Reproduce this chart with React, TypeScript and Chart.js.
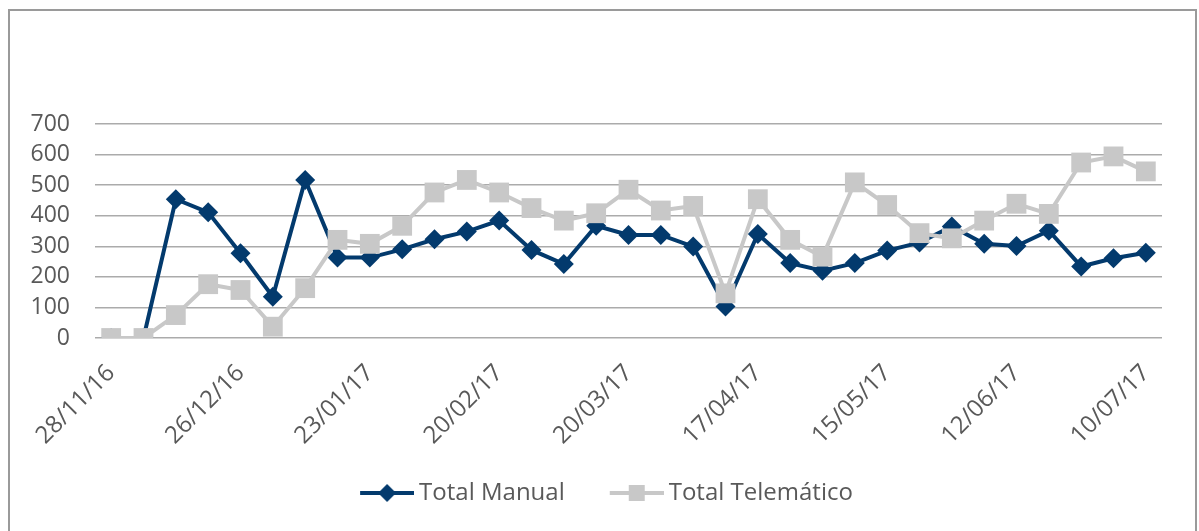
import { useEffect, useRef } from "react";
import { Chart, registerables } from "chart.js";

Chart.register(...registerables);

const categories = [
  "28/11/16", "05/12/16", "12/12/16", "19/12/16", "26/12/16", "02/01/17", "09/01/17", "16/01/17",
  "23/01/17", "30/01/17", "06/02/17", "13/02/17", "20/02/17", "27/02/17", "06/03/17", "13/03/17",
  "20/03/17", "27/03/17", "03/04/17", "10/04/17", "17/04/17", "24/04/17", "01/05/17", "08/05/17",
  "15/05/17", "22/05/17", "29/05/17", "05/06/17", "12/06/17", "19/06/17", "26/06/17", "03/07/17",
  "10/07/17",
];

const totalManual = [
  0, 0, 454, 411, 277, 135, 517, 263, 263, 290, 323, 348, 384, 288, 242, 367, 337,
  337, 299, 103, 340, 245, 220, 245, 286, 312, 365, 308, 301, 351, 234, 261, 279,
];

const totalTelematico = [
  0, 0, 75, 176, 157, 37, 163, 321, 308, 367, 476, 517, 476, 425, 384, 408, 485,
  417, 432, 146, 454, 321, 266, 509, 435, 343, 326, 384, 439, 406, 574, 594, 545,
];

const seriesNames = ["Total Manual", "Total Telemático"];
const yMin = 0;
const yMax = 700;
const yStep = 100;
const labelEvery = 4;

const NAVY = "#033a6d";
const GRAY = "#c8c8c8";
const TEXT = "#595959";
const FONT = "'Open Sans', 'Noto Sans', sans-serif";

// legend icon: line with marker, drawn offset to the right inside a symmetric canvas
function makeLegendIcon(color: string, shape: "diamond" | "square") {
  const c = document.createElement("canvas");
  c.width = 75;
  c.height = 22;
  const ctx = c.getContext("2d")!;
  const x0 = 21;
  const w = 54;
  const cx = x0 + w / 2;
  ctx.strokeStyle = color;
  ctx.lineWidth = 4;
  ctx.beginPath();
  ctx.moveTo(x0, 11);
  ctx.lineTo(x0 + w, 11);
  ctx.stroke();
  ctx.fillStyle = color;
  if (shape === "diamond") {
    ctx.beginPath();
    ctx.moveTo(cx, 2);
    ctx.lineTo(cx + 9, 11);
    ctx.lineTo(cx, 20);
    ctx.lineTo(cx - 9, 11);
    ctx.closePath();
    ctx.fill();
  } else {
    ctx.fillRect(cx - 8, 3, 16, 16);
  }
  return c;
}

export default function App() {
  const ref = useRef<HTMLCanvasElement | null>(null);

  useEffect(() => {
    if (!ref.current) return;
    const icons = [makeLegendIcon(NAVY, "diamond"), makeLegendIcon(GRAY, "square")];
    const chart = new Chart(ref.current, {
      type: "line",
      data: {
        labels: categories,
        datasets: [
          {
            label: seriesNames[0],
            data: totalManual,
            borderColor: NAVY,
            backgroundColor: NAVY,
            borderWidth: 4,
            pointStyle: "rectRot",
            pointRadius: 10,
            pointBorderWidth: 0,
            pointBackgroundColor: NAVY,
            tension: 0,
            order: 1,
          },
          {
            label: seriesNames[1],
            data: totalTelematico,
            borderColor: GRAY,
            backgroundColor: GRAY,
            borderWidth: 4,
            pointStyle: "rect",
            pointRadius: 14,
            pointBorderWidth: 0,
            pointBackgroundColor: GRAY,
            tension: 0,
            order: 0,
          },
        ],
      },
      options: {
        responsive: false,
        animation: false,
        layout: { padding: { left: 0, right: 0, top: 124, bottom: 16 } },
        plugins: {
          tooltip: { enabled: false },
          legend: {
            position: "bottom",
            labels: {
              usePointStyle: true,
              pointStyleWidth: 61,
              padding: 31,
              color: TEXT,
              font: { family: FONT, size: 24 },
              sort: (a: any, b: any) => a.datasetIndex - b.datasetIndex,
              generateLabels: (ch: any) => {
                const items = Chart.defaults.plugins.legend.labels.generateLabels(ch);
                items.forEach((it: any) => {
                  it.pointStyle = icons[it.datasetIndex];
                });
                return items;
              },
            },
          },
        },
        scales: {
          x: {
            offset: true,
            grid: { display: false, drawTicks: false },
            border: { display: false },
            ticks: {
              autoSkip: false,
              minRotation: 45,
              maxRotation: 45,
              padding: 21,
              color: TEXT,
              font: { family: FONT, size: 24 },
              callback: (_v: any, i: number) => (i % labelEvery === 0 ? categories[i] : ""),
            },
            afterFit: (s: any) => {
              s.height = 112;
            },
          },
          y: {
            min: yMin,
            max: yMax,
            grid: { color: "#ababab", lineWidth: 1.4, drawTicks: false },
            border: { display: false },
            ticks: {
              stepSize: yStep,
              autoSkip: false,
              padding: 25,
              color: TEXT,
              font: { family: FONT, size: 23 },
            },
            afterFit: (s: any) => {
              s.width = 95;
            },
          },
          yR: {
            position: "right",
            display: true,
            grid: { display: false, drawTicks: false },
            border: { display: false },
            ticks: { display: false },
            afterFit: (s: any) => {
              s.width = 37;
            },
          },
        },
      },
    });
    return () => chart.destroy();
  }, []);

  return (
    <div style={{ position: "fixed", left: 0, top: 0, width: 1199, height: 531, background: "#fff" }}>
      <div
        style={{
          position: "absolute",
          left: 8,
          top: 9,
          width: 1185,
          height: 540,
          borderTop: "2px solid #9a9a9a",
          borderLeft: "2px solid #9a9a9a",
          borderRight: "2px solid #9a9a9a",
        }}
      />
      <canvas ref={ref} width={1199} height={531} style={{ position: "absolute", left: 0, top: 0 }} />
    </div>
  );
}
